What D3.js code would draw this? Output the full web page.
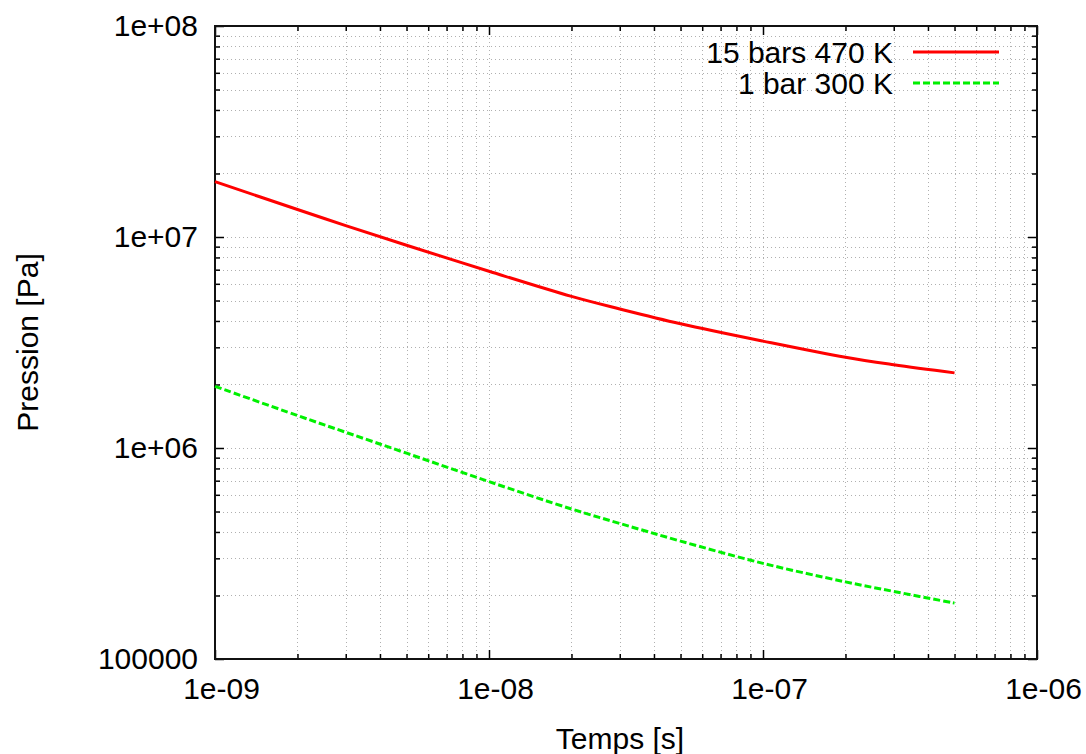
<!DOCTYPE html>
<html>
<head>
<meta charset="utf-8">
<script src="https://cdn.jsdelivr.net/npm/d3@7"></script>
<style>
  html, body { margin: 0; padding: 0; background: #fff; }
  svg { display: block; }
  text { font-family: "Liberation Sans", Arial, Helvetica, sans-serif; fill: #000; }
</style>
</head>
<body>
<svg id="chart" width="1086" height="754"></svg>
<script>
// ---- data ----
const times = [1e-9, 2e-9, 3e-9, 5e-9, 1e-8, 2e-8, 3e-8, 5e-8, 1e-7, 2e-7, 3e-7, 5e-7];
const pressure15bar = [1.83e7, 1.35e7, 1.133e7, 9.14e6, 6.88e6, 5.23e6, 4.56e6, 3.88e6, 3.21e6, 2.69e6, 2.48e6, 2.27e6];
const pressure1bar = [1.96e6, 1.425e6, 1.187e6, 9.45e5, 6.93e5, 5.14e5, 4.39e5, 3.62e5, 2.84e5, 2.32e5, 2.09e5, 1.84e5];
const seriesNames = ["15 bars 470 K", "1 bar 300 K"];
const xTickValues = [1e-9, 1e-8, 1e-7, 1e-6];
const xTickLabels = ["1e-09", "1e-08", "1e-07", "1e-06"];
const yTickValues = [1e5, 1e6, 1e7, 1e8];
const yTickLabels = ["100000", "1e+06", "1e+07", "1e+08"];
const xTitle = "Temps [s]";
const yTitle = "Pression [Pa]";

// ---- layout ----
const L = 215, R = 1037, T = 26, B = 659;
const svg = d3.select("#chart");
const x = d3.scaleLog().domain([1e-9, 1e-6]).range([L, R]);
const y = d3.scaleLog().domain([1e5, 1e8]).range([B, T]);

function minors(majors) {
  const out = [];
  for (let i = 0; i < majors.length - 1; i++)
    for (let k = 2; k <= 9; k++) out.push(majors[i] * k);
  return out;
}
const xMinor = minors(xTickValues);
const yMinor = minors(yTickValues);
const xAll = xTickValues.concat(xMinor);
const yAll = yTickValues.concat(yMinor);

// ---- grid ----
const grid = svg.append("g").attr("stroke", "#b0b0b0").attr("stroke-width", 1).attr("stroke-dasharray", "1,3");
grid.selectAll("line.gx").data(xAll.filter(v => v > 1e-9 && v < 1e-6)).join("line")
  .attr("x1", d => Math.round(x(d)) + 0.5).attr("x2", d => Math.round(x(d)) + 0.5)
  .attr("y1", T).attr("y2", B);
grid.selectAll("line.gy").data(yAll.filter(v => v > 1e5 && v < 1e8)).join("line")
  .attr("y1", d => Math.round(y(d)) + 0.5).attr("y2", d => Math.round(y(d)) + 0.5)
  .attr("x1", L).attr("x2", R);

// ---- axes (ticks inward, mirrored) ----
function styleAxis(g) {
  g.select(".domain").remove();
  g.selectAll(".tick line").attr("stroke", "#000").attr("stroke-width", 1.5);
  g.selectAll(".tick text").attr("font-size", 30).attr("fill", "#000")
    .attr("font-family", "Liberation Sans, Arial, sans-serif");
}
// bottom
svg.append("g").attr("transform", `translate(0,${B})`)
  .call(d3.axisBottom(x).tickValues(xTickValues).tickSize(-9).tickPadding(19)
    .tickFormat((d, i) => xTickLabels[i]))
  .call(styleAxis)
  .call(g => g.selectAll(".tick text").attr("dx", 6));
svg.append("g").attr("transform", `translate(0,${B})`)
  .call(d3.axisBottom(x).tickValues(xMinor).tickSize(-5).tickFormat(""))
  .call(styleAxis);
// top
svg.append("g").attr("transform", `translate(0,${T})`)
  .call(d3.axisTop(x).tickValues(xTickValues).tickSize(-9).tickFormat(""))
  .call(styleAxis);
svg.append("g").attr("transform", `translate(0,${T})`)
  .call(d3.axisTop(x).tickValues(xMinor).tickSize(-5).tickFormat(""))
  .call(styleAxis);
// left
svg.append("g").attr("transform", `translate(${L},0)`)
  .call(d3.axisLeft(y).tickValues(yTickValues).tickSize(-9).tickPadding(17)
    .tickFormat((d, i) => yTickLabels[i]))
  .call(styleAxis);
svg.append("g").attr("transform", `translate(${L},0)`)
  .call(d3.axisLeft(y).tickValues(yMinor).tickSize(-5).tickFormat(""))
  .call(styleAxis);
// right
svg.append("g").attr("transform", `translate(${R},0)`)
  .call(d3.axisRight(y).tickValues(yTickValues).tickSize(-9).tickFormat(""))
  .call(styleAxis);
svg.append("g").attr("transform", `translate(${R},0)`)
  .call(d3.axisRight(y).tickValues(yMinor).tickSize(-5).tickFormat(""))
  .call(styleAxis);

// ---- frame ----
svg.append("rect").attr("x", L).attr("y", T).attr("width", R - L).attr("height", B - T)
  .attr("fill", "none").attr("stroke", "#111").attr("stroke-width", 2);

// ---- curves ----
const line = d3.line().x(d => x(d[0])).y(d => y(d[1])).curve(d3.curveCatmullRom.alpha(0.5));
const redData = times.map((t, i) => [t, pressure15bar[i]]);
const greenData = times.map((t, i) => [t, pressure1bar[i]]);
svg.append("path").datum(redData).attr("d", line)
  .attr("fill", "none").attr("stroke", "#ff0000").attr("stroke-width", 3);
svg.append("path").datum(greenData).attr("d", line)
  .attr("fill", "none").attr("stroke", "#00f000").attr("stroke-width", 3)
  .attr("stroke-dasharray", "7,3");

// ---- legend ----
const legend = svg.append("g");
const legItems = [
  { name: seriesNames[0], color: "#ff0000", dash: null, yy: 52 },
  { name: seriesNames[1], color: "#00f000", dash: "7,3", yy: 83 }
];
legItems.forEach(it => {
  legend.append("text").attr("x", 893).attr("y", it.yy).attr("dy", "0.35em")
    .attr("text-anchor", "end").attr("font-size", 30).text(it.name);
  legend.append("line").attr("x1", 913).attr("x2", 999).attr("y1", it.yy).attr("y2", it.yy)
    .attr("stroke", it.color).attr("stroke-width", 3).attr("stroke-dasharray", it.dash);
});

// ---- titles ----
svg.append("text").attr("x", 620).attr("y", 738).attr("dy", "0.35em")
  .attr("text-anchor", "middle").attr("font-size", 30).text(xTitle);
svg.append("text").attr("transform", `translate(27,${(T + B) / 2}) rotate(-90)`)
  .attr("dy", "0.35em").attr("text-anchor", "middle").attr("font-size", 30).text(yTitle);
</script>
</body>
</html>
